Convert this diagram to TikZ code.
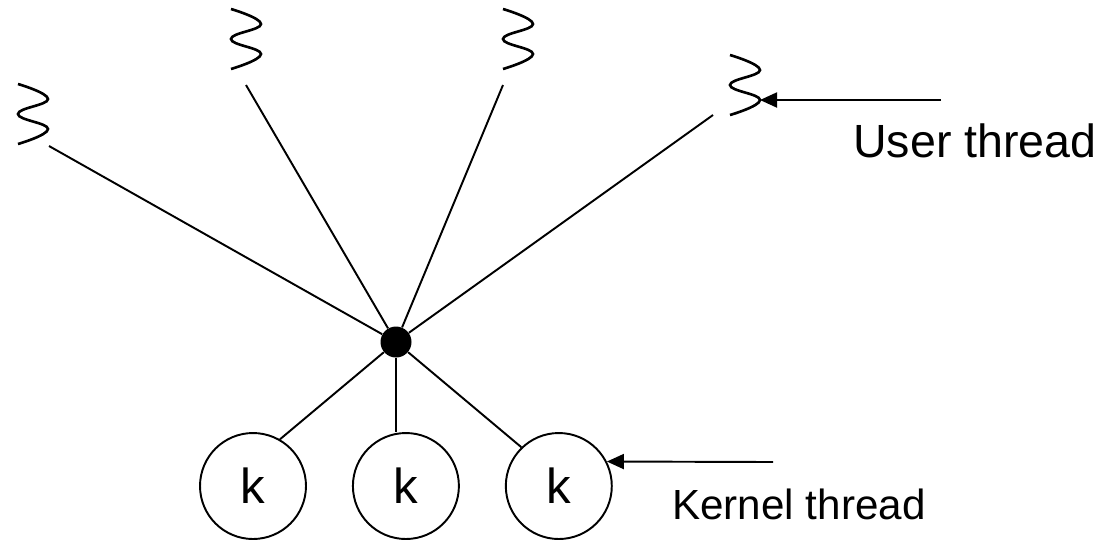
\documentclass[tikz,border=0pt]{standalone}
\usepackage{fontspec}
\setmainfont{Liberation Sans}
\usetikzlibrary{arrows.meta,positioning}

\begin{document}
\begin{tikzpicture}[x=0.02cm,y=-0.02cm,
    conn/.style={line width=1.1pt},
    wave/.pic={
        \draw[line width=1.5pt] plot[smooth,tension=0.75] coordinates {(0,0) (30,15) (0,30) (30,45) (0,60)};
        \coordinate (-tip) at (30,45);
    },
    kthread/.style={circle,
        draw,
        line width=1.1pt,
        minimum size=2.12cm,
        inner sep=0pt,
        font=\fontsize{28}{32}\selectfont},
    lbl/.style={anchor=base west, inner sep=0pt}]

\useasboundingbox (0,0) rectangle (1108,539);

% user threads
\pic (w1) at (18,84) {wave};
\pic (w2) at (231,9) {wave};
\pic (w3) at (503,9) {wave};
\pic (w4) at (730,55) {wave};

\coordinate (u1) at (49,146);
\coordinate (u2) at (246,85);
\coordinate (u3) at (503,85);
\coordinate (u4) at (713,115);

\node[circle,fill=black,inner sep=0pt,minimum size=0.62cm] (hub) at (396,342) {};

\foreach \u in {u1,u2,u3,u4}
    \draw[conn] (\u) -- (hub);

% kernel threads
\node[kthread] (k1) at (253,486) {k};
\node[kthread, right=0.9cm of k1] (k2) {k};
\node[kthread, right=0.9cm of k2] (k3) {k};

\draw[conn] (hub) -- (k1.60);
\draw[conn] (hub) -- (hub |- k2.north);
\draw[conn] (hub) -- (k3.134);

% labels
\coordinate (ut) at (941,100);
\coordinate (kt) at (773,462);
\draw[conn, -{Triangle[length=0.34cm,width=0.3cm]}] (ut) -- (w4-tip);
\draw[conn, -{Triangle[length=0.34cm,width=0.3cm]}] (kt) -- (k3.27);

\node[lbl, font=\fontsize{26.5}{30}\selectfont] (user) at (853,157) {User thread};
\node[lbl, font=\fontsize{24}{28}\selectfont] (kernel) at (672,519) {Kernel thread};

\end{tikzpicture}
\end{document}
